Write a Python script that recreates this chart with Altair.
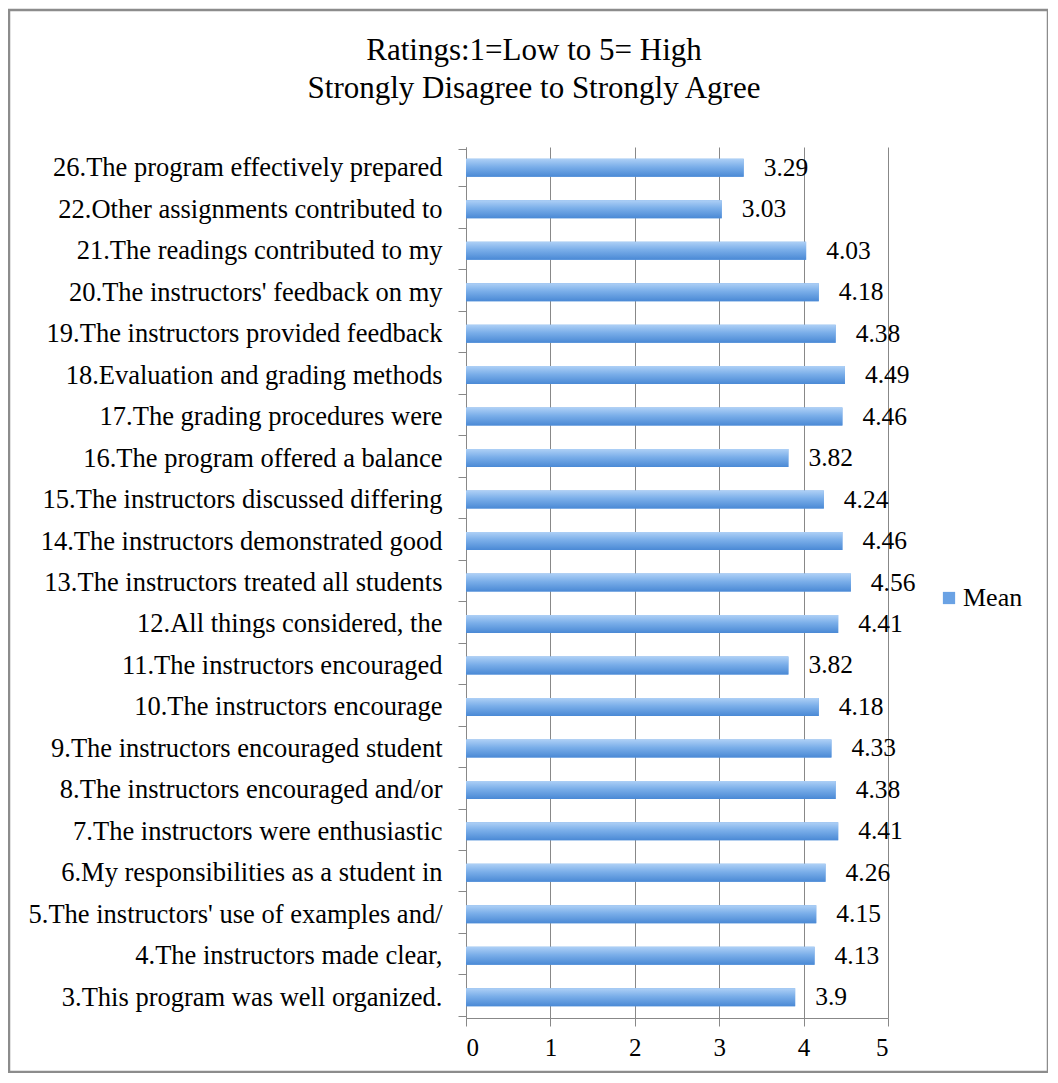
import altair as alt
import pandas as pd

categories = [
    "26.The program effectively prepared",
    "22.Other assignments contributed to",
    "21.The readings contributed to my",
    "20.The instructors' feedback on my",
    "19.The instructors provided feedback",
    "18.Evaluation and grading methods",
    "17.The grading procedures were",
    "16.The program offered a balance",
    "15.The instructors discussed differing",
    "14.The instructors demonstrated good",
    "13.The instructors treated all students",
    "12.All things considered, the",
    "11.The instructors encouraged",
    "10.The instructors encourage",
    "9.The instructors encouraged student",
    "8.The instructors encouraged and/or",
    "7.The instructors were enthusiastic",
    "6.My responsibilities as a student in",
    "5.The instructors' use of examples and/",
    "4.The instructors made clear,",
    "3.This program was well organized.",
]
values = [3.29, 3.03, 4.03, 4.18, 4.38, 4.49, 4.46, 3.82, 4.24, 4.46, 4.56,
          4.41, 3.82, 4.18, 4.33, 4.38, 4.41, 4.26, 4.15, 4.13, 3.9]
value_labels = ["3.29", "3.03", "4.03", "4.18", "4.38", "4.49", "4.46", "3.82",
                "4.24", "4.46", "4.56", "4.41", "3.82", "4.18", "4.33", "4.38",
                "4.41", "4.26", "4.15", "4.13", "3.9"]
series_name = "Mean"
x_ticks = [0, 1, 2, 3, 4, 5]

df = pd.DataFrame({"item": categories, "value": values,
                   "label": value_labels, "series": series_name})

FONT = "Liberation Serif"

y_enc = alt.Y("item:N", sort=categories, title=None,
              axis=alt.Axis(labelFont=FONT, labelFontSize=26.5, labelColor="#000",
                            labelPadding=16, tickBand="extent", tickSize=8,
                            tickColor="#888", domainColor="#888",
                            labelLimit=600))
x_enc = alt.X("value:Q", title=None,
              scale=alt.Scale(domain=[0, 5], nice=False),
              axis=alt.Axis(values=x_ticks, labelFont=FONT, labelFontSize=25,
                            labelColor="#000", tickSize=8, tickColor="#888",
                            domainColor="#888", grid=True, gridColor="#888",
                            labelPadding=9, format="d"))

base = alt.Chart(df)

legend_bar = base.mark_bar(size=18).encode(
    x=x_enc, y=y_enc,
    color=alt.Color("series:N", title=None,
                    scale=alt.Scale(range=["#6aa2e4"]),
                    legend=alt.Legend(orient="none", legendX=470, legendY=438,
                                      labelFont=FONT, labelFontSize=26,
                                      labelColor="#000", symbolType="square",
                                      symbolSize=150, symbolStrokeWidth=0,
                                      labelOffset=1)),
)

grad_bar = base.mark_bar(
    size=18,
    color=alt.Gradient(
        gradient="linear",
        stops=[alt.GradientStop(color="#aed0f6", offset=0),
               alt.GradientStop(color="#7aaee9", offset=0.45),
               alt.GradientStop(color="#4a89d5", offset=1)],
        x1=0, x2=0, y1=0, y2=1,
    ),
).encode(x="value:Q", y=alt.Y("item:N", sort=categories))

text = base.mark_text(align="left", dx=20, font=FONT, fontSize=25.5,
                      color="#000", baseline="middle").encode(
    x="value:Q", y=alt.Y("item:N", sort=categories), text="label:N")

border = alt.Chart(pd.DataFrame({"k": [0]})).mark_rect(
    fill=None, stroke="#8c8c8c", strokeWidth=2.5, clip=False
).encode(x=alt.value(-457), x2=alt.value(582),
         y=alt.value(-137), y2=alt.value(925))

chart = alt.layer(legend_bar, grad_bar, text, border).properties(
    width=422, height=871,
    padding={"left": 458, "top": 139, "right": 160, "bottom": 55},
    autosize=alt.AutoSizeParams(type="none"),
    title=alt.TitleParams(
        ["Ratings:1=Low to 5= High", "Strongly Disagree to Strongly Agree"],
        font=FONT, fontSize=31, fontWeight="normal", color="#000",
        anchor="middle", frame="group", dx=-143, offset=-96, lineHeight=38,
    ),
).configure_view(stroke=None)

chart.save("out.html", embed_options={"renderer": "svg", "actions": False})
